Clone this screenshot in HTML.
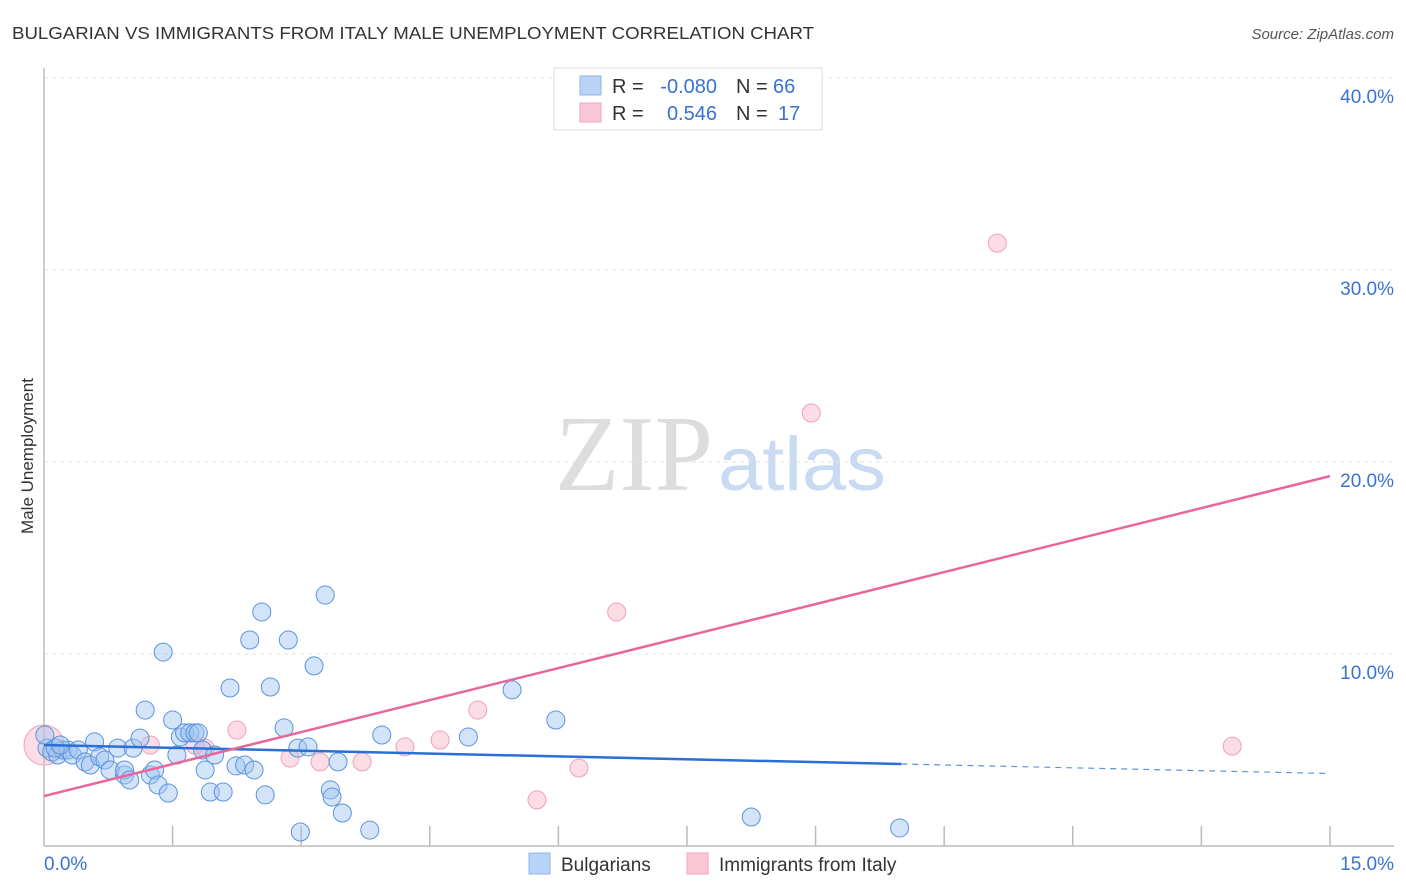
<!DOCTYPE html>
<html><head><meta charset="utf-8">
<style>
body{margin:0;background:#fff;font-family:"Liberation Sans",sans-serif;}
#wrap{position:relative;width:1406px;height:892px;overflow:hidden;}
</style></head>
<body>
<div id="wrap">
<svg id="svg" width="1406" height="892" xmlns="http://www.w3.org/2000/svg">
<text x="12" y="39" font-size="17.5" fill="#333" textLength="802" lengthAdjust="spacingAndGlyphs">BULGARIAN VS IMMIGRANTS FROM ITALY MALE UNEMPLOYMENT CORRELATION CHART</text>
<text x="1394" y="39" font-size="15" fill="#555" font-style="italic" text-anchor="end">Source: ZipAtlas.com</text>
<text x="33" y="456" font-size="17" fill="#333" text-anchor="middle" transform="rotate(-90 33 456)">Male Unemployment</text>
<g>
<text x="634" y="490" font-size="108" fill="#ddd" font-family="Liberation Serif,serif" text-anchor="middle" textLength="158" lengthAdjust="spacingAndGlyphs">ZIP</text>
<text x="802" y="490" font-size="76" fill="#c9daf3" text-anchor="middle" textLength="168" lengthAdjust="spacingAndGlyphs">atlas</text>
</g>
<g id="grid"></g>
<g id="marks"></g>
<g>
<rect x="554" y="68" width="268" height="62" fill="#fff" stroke="#ddd"/>
<rect x="580" y="76" width="21" height="19" fill="#b9d3f6" stroke="#8fb6ea"/>
<rect x="580" y="103" width="21" height="19" fill="#fac7d6" stroke="#f0a4bb"/>
<text x="612" y="93" font-size="20" fill="#333">R =</text>
<text x="717" y="93" font-size="20" fill="#3a72d0" text-anchor="end">-0.080</text>
<text x="736" y="93" font-size="20" fill="#333">N =</text>
<text x="773" y="93" font-size="20" fill="#3a72d0">66</text>
<text x="612" y="120" font-size="20" fill="#333">R =</text>
<text x="717" y="120" font-size="20" fill="#3a72d0" text-anchor="end">0.546</text>
<text x="736" y="120" font-size="20" fill="#333">N =</text>
<text x="778" y="120" font-size="20" fill="#3a72d0">17</text>
</g>
<g>
<rect x="529" y="853" width="21" height="21" fill="#b9d3f6" stroke="#8fb6ea"/>
<text x="561" y="871" font-size="19" fill="#333">Bulgarians</text>
<rect x="687" y="853" width="21" height="21" fill="#fac7d6" stroke="#f0a4bb"/>
<text x="719" y="871" font-size="19" fill="#333">Immigrants from Italy</text>
</g>
</svg>
</div>
<script>
const yTicks=[10,20,30,40];
const yTickLabels=["10.0%","20.0%","30.0%","40.0%"];
const xTickLabels=["0.0%","15.0%"];
const blueX=[0.035,0.09,0.16,0.22,0.28,0.33,0.40,0.48,0.54,0.59,0.65,0.71,0.77,0.86,0.94,0.94,1.00,1.04,1.12,1.18,1.24,1.29,1.33,1.39,1.45,1.50,1.55,1.59,1.64,1.70,1.76,1.80,1.85,1.88,1.94,1.99,2.09,2.17,2.24,2.34,2.40,2.45,2.54,2.58,2.64,2.80,2.85,2.96,2.99,3.08,3.15,3.28,3.34,3.36,3.43,3.48,3.80,3.94,4.95,5.46,5.97,8.25,9.98,0.01,0.13,0.19];
const blueY=[5.1,4.9,4.74,5.0,5.0,4.74,5.0,4.38,4.22,5.42,4.64,4.48,3.96,5.1,3.7,3.96,3.44,5.1,5.62,7.08,3.7,3.96,3.18,10.1,2.76,6.56,4.74,5.68,5.89,5.89,5.89,5.89,5.0,3.96,2.81,4.74,2.81,8.23,4.17,4.22,10.73,3.96,12.19,2.66,8.28,6.15,10.73,5.1,0.73,5.16,9.38,13.07,2.92,2.55,4.38,1.72,0.83,5.78,5.68,8.13,6.56,1.51,0.94,5.78,5.1,5.26];
const pinkX=[0,1.24,1.76,1.88,2.25,2.87,3.22,3.71,4.21,4.62,5.06,5.75,6.24,6.68,8.95,11.12,13.86];
const pinkY=[5.26,5.26,5.26,5.1,6.04,4.58,4.38,4.38,5.16,5.52,7.08,2.4,4.06,12.19,22.55,31.4,5.2];
const blueLine=[5.26,-0.099];
const pinkLine=[2.6,1.111];
const X=v=>44+v*85.73, Y=v=>846-v*19.2;
const NS="http://www.w3.org/2000/svg";
function mk(t,a,p){const e=document.createElementNS(NS,t);for(const k in a)e.setAttribute(k,a[k]);p.appendChild(e);return e;}
const grid=document.getElementById('grid'), marks=document.getElementById('marks');
yTicks.forEach((t,i)=>{
 const l=mk('line',{x1:44,x2:1394,y1:Y(t),y2:Y(t),stroke:'#e2e2e2','stroke-dasharray':'4,4'},grid);
 
 
 const tx=mk('text',{x:1394,y:Y(t)+25,'font-size':19,fill:'#3a72d0','text-anchor':'end'},grid);
 tx.textContent=yTickLabels[i];
 
 
});
const ax=mk('line',{x1:44,x2:44,y1:68,y2:846,stroke:'#bbb','stroke-width':1.5},grid);


const bx=mk('line',{x1:44,x2:1394,y1:846,y2:846,stroke:'#bbb','stroke-width':1.5},grid);


for(let i=1;i<=10;i++){const v=i*1.5;
 const t=mk('line',{x1:X(v),x2:X(v),y1:826,y2:846,stroke:'#bbb','stroke-width':1.5},grid);
 
 }
[[0,'start',44],[15,'end',1394]].forEach((d,i)=>{
 const tx=mk('text',{x:d[2],y:870,'font-size':19,fill:'#3a72d0','text-anchor':d[1]},grid);
 tx.textContent=xTickLabels[i];
 
 });
pinkX.forEach((x,i)=>{
 const c=mk('circle',{cx:X(x),cy:Y(pinkY[i]),r:i==0?20:9,fill:'rgba(248,180,200,0.45)',stroke:'#f0a0b8','stroke-width':1},marks);
 
 });
blueX.forEach((x,i)=>{
 const c=mk('circle',{cx:X(x),cy:Y(blueY[i]),r:9,fill:'rgba(160,196,240,0.45)',stroke:'#5b93dd','stroke-width':1},marks);
 
 });
const bl=mk('line',{x1:X(0),y1:Y(blueLine[0]),x2:X(10),y2:Y(blueLine[0]+blueLine[1]*10),stroke:'#2a6fd6','stroke-width':2.5},marks);


const bd=mk('line',{x1:X(10),y1:Y(blueLine[0]+blueLine[1]*10),x2:X(15),y2:Y(blueLine[0]+blueLine[1]*15),stroke:'#5b93dd','stroke-width':1.2,'stroke-dasharray':'6,5'},marks);


const pl=mk('line',{x1:X(0),y1:Y(pinkLine[0]),x2:X(15),y2:Y(pinkLine[0]+pinkLine[1]*15),stroke:'#e8679a','stroke-width':2.5},marks);


</script>
</body></html>
